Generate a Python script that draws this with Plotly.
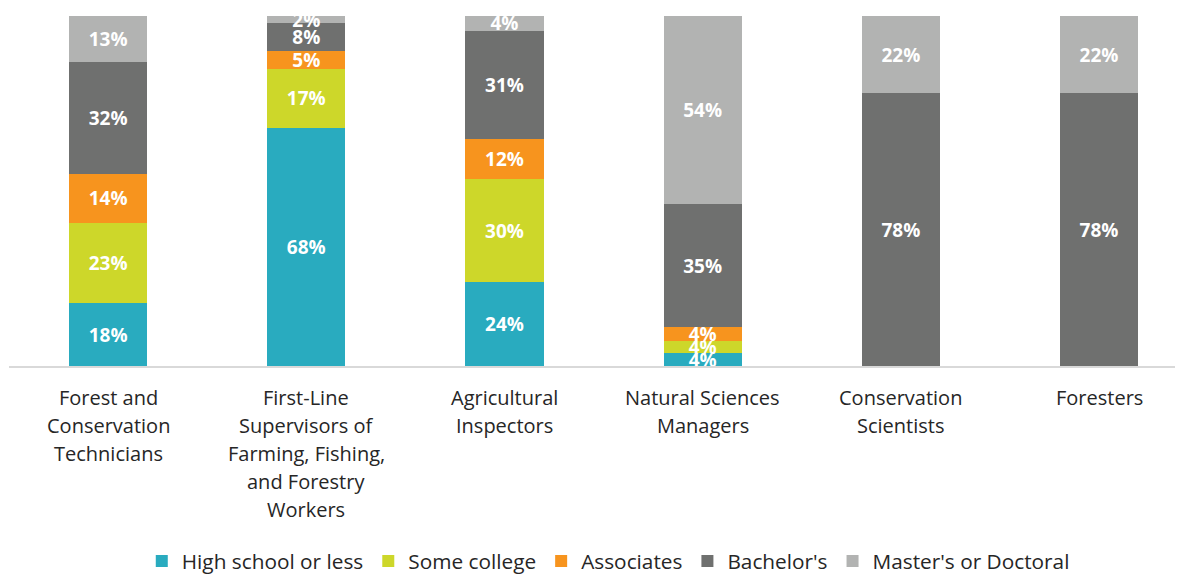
import plotly.graph_objects as go

categories = [
    "Forest and<br>Conservation<br>Technicians",
    "First-Line<br>Supervisors of<br>Farming, Fishing,<br>and Forestry<br>Workers",
    "Agricultural<br>Inspectors",
    "Natural Sciences<br>Managers",
    "Conservation<br>Scientists",
    "Foresters",
]

series_names = ["High school or less", "Some college", "Associates", "Bachelor's", "Master's or Doctoral"]
colors = ["#29ABBF", "#CDD72A", "#F7941E", "#6F706F", "#B2B3B2"]

# estimated bar heights (percent)
high_school = [18, 68, 23.9, 3.6, 0, 0]
some_college = [23, 17, 29.4, 3.6, 0, 0]
associates = [14, 5, 11.7, 4, 0, 0]
bachelors = [32, 8, 30.8, 35, 78, 78]
masters = [13, 2, 4.2, 53.8, 22, 22]

# printed labels
high_school_lbl = ["18%", "68%", "24%", "4%", "", ""]
some_college_lbl = ["23%", "17%", "30%", "4%", "", ""]
associates_lbl = ["14%", "5%", "12%", "4%", "", ""]
bachelors_lbl = ["32%", "8%", "31%", "35%", "78%", "78%"]
masters_lbl = ["13%", "2%", "4%", "54%", "22%", "22%"]

values = [high_school, some_college, associates, bachelors, masters]
labels = [high_school_lbl, some_college_lbl, associates_lbl, bachelors_lbl, masters_lbl]

FONT = "Open Sans"
TXT = "#262626"

fig = go.Figure()
for name, col, vals, lbl in zip(series_names, colors, values, labels):
    fig.add_trace(go.Bar(
        x=list(range(len(categories))),
        y=vals,
        name=name,
        marker=dict(color=col, line=dict(width=0)),
        text=lbl,
        textposition="inside",
        insidetextanchor="middle",
        textangle=0,
        constraintext="none",
        textfont=dict(color="white", size=19, family=FONT, weight="bold"),
        cliponaxis=False,
        hoverinfo="skip",
    ))

# category labels drawn line by line so the line spacing matches
for i, cat in enumerate(categories):
    for k, line in enumerate(cat.split("<br>")):
        fig.add_annotation(
            x=i, y=0, xref="x", yref="y",
            text=line, showarrow=False,
            yanchor="middle", xanchor="center",
            yshift=-(31 + 28.2 * k),
            font=dict(size=20, color=TXT, family=FONT),
        )

# the page body adds an 8px offset, so margins are reduced by that much
fig.update_layout(
    barmode="stack",
    bargap=0.605,
    width=1183,
    height=574,
    margin=dict(l=1, r=0, t=8, b=215),
    paper_bgcolor="white",
    plot_bgcolor="white",
    font=dict(family=FONT, size=20, color=TXT),
    showlegend=True,
    legend=dict(
        orientation="h",
        x=0.507, xanchor="center",
        y=-0.558, yanchor="middle",
        font=dict(size=20.8, color=TXT),
        itemwidth=30,
        traceorder="normal",
    ),
    xaxis=dict(
        range=[-0.5, 5.464],
        showline=True,
        linecolor="#D9D9D9",
        linewidth=1.5,
        ticks="",
        showticklabels=False,
        showgrid=False,
        zeroline=False,
        automargin=False,
    ),
    yaxis=dict(
        range=[0, 100],
        visible=False,
        showgrid=False,
        zeroline=False,
        automargin=False,
    ),
)

fig.write_html("out.html")
